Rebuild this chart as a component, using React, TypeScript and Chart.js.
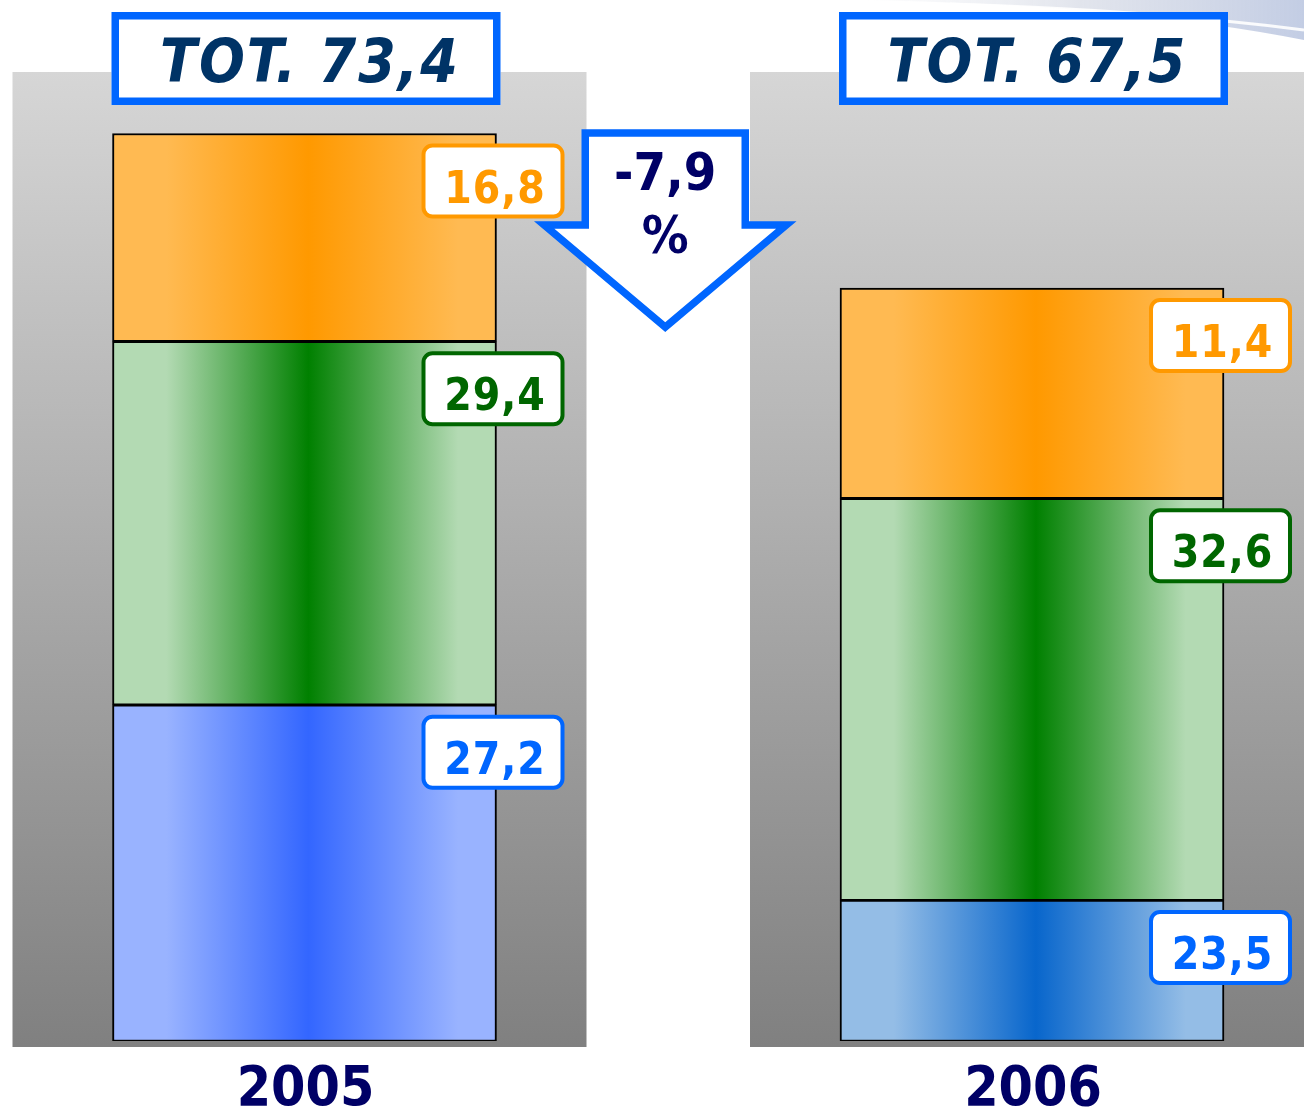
import React, { useEffect, useRef } from 'react';
import { Chart, registerables } from 'chart.js';

Chart.register(...registerables);

// ---- data ----
const YEARS = [2005, 2006];
const YEAR_LABELS = ['2005', '2006'];
// segment heights as drawn in the picture (bottom → top)
const SEG_BLUE = [27.2, 11.4];
const SEG_GREEN = [29.4, 32.5];
const SEG_ORANGE = [16.8, 17.0];
// printed value labels
const LBL_BLUE = ['27,2', '23,5'];
const LBL_GREEN = ['29,4', '32,6'];
const LBL_ORANGE = ['16,8', '11,4'];
const TOTALS = ['TOT. 73,4', 'TOT. 67,5'];
const CHANGE = ['-7,9', '%'];

// ---- style ----
const FONT = "'DejaVu Sans Condensed', 'DejaVu Sans', sans-serif";
const NAVY = '#000066';
const TITLE_NAVY = '#003366';
const BOX_BLUE = '#0066ff';
const BAR_W = 384;
const W = 1304;
const H = 1116;
const PX_PER_YEAR = 727.5;
const X_MIN = 2005 - 304.5 / PX_PER_YEAR;
const X_MAX = X_MIN + W / PX_PER_YEAR;
const Y_MAX = 84.2;
const PANEL_PAD = [
  [292, 282],
  [282, 290],
];

const GRAD: Record<string, string[][]> = {
  blue: [['#99b3ff', '#3366ff'], ['#94bde6', '#0866cc']],
  green: [['#b3dab3', '#008000'], ['#b3dab3', '#008000']],
  orange: [['#ffba52', '#ff9900'], ['#ffba52', '#ff9900']],
};
const LABEL_COLORS: Record<string, string> = { blue: '#0066ff', green: '#006600', orange: '#ff9900' };

function gradientFill(key: string) {
  return (c: any) => {
    const chart = c.chart;
    const idx = typeof c.dataIndex === 'number' ? c.dataIndex : 0;
    const pair = GRAD[key][idx] || GRAD[key][0];
    const xs = chart.scales && chart.scales.x;
    if (c.type !== 'data' || !xs) return pair[1];
    const cx = xs.getPixelForValue(YEARS[idx]);
    if (!isFinite(cx)) return pair[1];
    const g = chart.ctx.createLinearGradient(cx - BAR_W / 2, 0, cx + BAR_W / 2, 0);
    g.addColorStop(0, pair[0]);
    g.addColorStop(0.14, pair[0]);
    g.addColorStop(0.51, pair[1]);
    g.addColorStop(0.9, pair[0]);
    g.addColorStop(1, pair[0]);
    return g;
  };
}

const decor = {
  id: 'decor',
  beforeDatasetsDraw(chart: any) {
    const { ctx, scales } = chart;
    const x = scales.x;
    const y = scales.y;
    const base = y.getPixelForValue(0);
    ctx.save();
    // faint swoosh at top right
    const sg = ctx.createLinearGradient(860, 0, W, 0);
    sg.addColorStop(0, 'rgba(225,228,235,0)');
    sg.addColorStop(0.5, 'rgba(218,222,232,0.8)');
    sg.addColorStop(1, 'rgba(195,205,228,1)');
    ctx.fillStyle = sg;
    ctx.beginPath();
    ctx.moveTo(860, 0);
    ctx.quadraticCurveTo(1120, 4, W, 40);
    ctx.lineTo(W, 0);
    ctx.closePath();
    ctx.fill();
    ctx.strokeStyle = 'rgba(255,255,255,0.9)';
    ctx.lineWidth = 3;
    ctx.beginPath();
    ctx.moveTo(950, 4);
    ctx.quadraticCurveTo(1150, 10, W, 30);
    ctx.stroke();
    // gray panels
    YEARS.forEach((yr, i) => {
      const cx = x.getPixelForValue(yr);
      const left = cx - PANEL_PAD[i][0];
      const right = cx + PANEL_PAD[i][1];
      const top = chart.chartArea.top + 72;
      const bottom = base + 6;
      const g = ctx.createLinearGradient(0, top, 0, bottom);
      g.addColorStop(0, '#d6d6d6');
      g.addColorStop(1, '#808080');
      ctx.fillStyle = g;
      ctx.fillRect(left, top, right - left, bottom - top);
    });
    ctx.restore();
  },
  afterDatasetsDraw(chart: any) {
    const { ctx, scales } = chart;
    const x = scales.x;
    ctx.save();
    // title boxes
    YEARS.forEach((yr, i) => {
      const cx = x.getPixelForValue(yr);
      const l = cx - BAR_W / 2 - 1;
      const r = cx + BAR_W / 2 + 4;
      const t = 12;
      const b = 105;
      const lw = 7.5;
      ctx.fillStyle = '#ffffff';
      ctx.fillRect(l, t, r - l, b - t);
      ctx.strokeStyle = BOX_BLUE;
      ctx.lineWidth = lw;
      ctx.strokeRect(l + lw / 2, t + lw / 2, r - l - lw, b - t - lw);
      ctx.fillStyle = TITLE_NAVY;
      ctx.font = `italic bold 60px ${FONT}`;
      (ctx as any).letterSpacing = '2px';
      ctx.textAlign = 'center';
      ctx.textBaseline = 'alphabetic';
      ctx.fillText(TOTALS[i], (l + r) / 2 + 4, 82);
      (ctx as any).letterSpacing = '0px';
    });
    // value labels
    const sets = [
      { key: 'blue', labels: LBL_BLUE },
      { key: 'green', labels: LBL_GREEN },
      { key: 'orange', labels: LBL_ORANGE },
    ];
    sets.forEach((s, di) => {
      const meta = chart.getDatasetMeta(di);
      meta.data.forEach((el: any, j: number) => {
        const right = el.x + el.width / 2;
        const top = Math.min(el.y, el.base);
        const bx = right - 75;
        const by = top + 10;
        const bw = 143;
        const bh = 75;
        ctx.beginPath();
        ctx.roundRect(bx + 2, by + 2, bw - 4, bh - 4, 9);
        ctx.fillStyle = '#ffffff';
        ctx.fill();
        ctx.lineWidth = 4;
        ctx.strokeStyle = LABEL_COLORS[s.key];
        ctx.stroke();
        ctx.fillStyle = LABEL_COLORS[s.key];
        ctx.font = `bold 44px ${FONT}`;
        (ctx as any).letterSpacing = '1px';
        ctx.textAlign = 'center';
        ctx.textBaseline = 'alphabetic';
        ctx.fillText(s.labels[j], bx + bw / 2 + 2, by + 59);
        (ctx as any).letterSpacing = '0px';
      });
    });
    // arrow
    const x0 = x.getPixelForValue(YEARS[0]);
    const x1 = x.getPixelForValue(YEARS[1]);
    const mx = (x0 + x1) / 2 - 3;
    ctx.beginPath();
    ctx.moveTo(mx - 80, 133);
    ctx.lineTo(mx + 80, 133);
    ctx.lineTo(mx + 80, 225);
    ctx.lineTo(mx + 121, 225);
    ctx.lineTo(mx, 327);
    ctx.lineTo(mx - 121, 225);
    ctx.lineTo(mx - 80, 225);
    ctx.closePath();
    ctx.fillStyle = '#ffffff';
    ctx.fill();
    ctx.lineJoin = 'miter';
    ctx.lineWidth = 7.5;
    ctx.strokeStyle = BOX_BLUE;
    ctx.stroke();
    ctx.fillStyle = NAVY;
    ctx.font = `bold 52px ${FONT}`;
    ctx.textAlign = 'center';
    ctx.textBaseline = 'alphabetic';
    ctx.fillText(CHANGE[0], mx, 190);
    ctx.fillText(CHANGE[1], mx, 253);
    ctx.restore();
  },
};

export default function App() {
  const ref = useRef<HTMLCanvasElement | null>(null);
  useEffect(() => {
    if (!ref.current) return;
    const border = { top: 2, right: 2, bottom: 1.5, left: 2 };
    const mk = (label: string, key: string, vals: number[]) => ({
      label,
      data: YEARS.map((yr, i) => ({ x: yr, y: vals[i] })),
      backgroundColor: gradientFill(key),
      borderColor: '#000000',
      borderWidth: border,
      borderSkipped: false,
      barThickness: BAR_W,
    });
    const chart = new Chart(ref.current, {
      type: 'bar',
      data: {
        datasets: [
          mk('blue', 'blue', SEG_BLUE),
          mk('green', 'green', SEG_GREEN),
          mk('orange', 'orange', SEG_ORANGE),
        ] as any,
      },
      options: {
        responsive: false,
        animation: false,
        layout: { padding: 0 },
        plugins: { legend: { display: false }, tooltip: { enabled: false }, title: { display: false } },
        scales: {
          x: {
            type: 'linear',
            min: X_MIN,
            max: X_MAX,
            offset: false,
            bounds: 'data',
            stacked: true,
            grid: { display: false, drawTicks: false, offset: false },
            border: { display: false },
            afterBuildTicks: (s: any) => {
              s.ticks = YEARS.map((v) => ({ value: v }));
            },
            afterFit: (s: any) => {
              s.height = 75;
            },
            ticks: {
              padding: 17,
              color: NAVY,
              font: { family: FONT, size: 55, weight: 'bold' },
              maxRotation: 0,
              autoSkip: false,
              labelOffset: 1,
              callback: (v: any) => {
                const k = YEARS.indexOf(Number(v));
                return k >= 0 ? YEAR_LABELS[k] : '';
              },
            },
          },
          y: { min: 0, max: Y_MAX, stacked: true, display: false },
        },
      } as any,
      plugins: [decor],
    });
    return () => chart.destroy();
  }, []);
  return (
    <div style={{ position: 'absolute', left: 0, top: 0, width: W, height: H, background: '#ffffff' }}>
      <canvas ref={ref} width={W} height={H} style={{ display: 'block' }} />
    </div>
  );
}
